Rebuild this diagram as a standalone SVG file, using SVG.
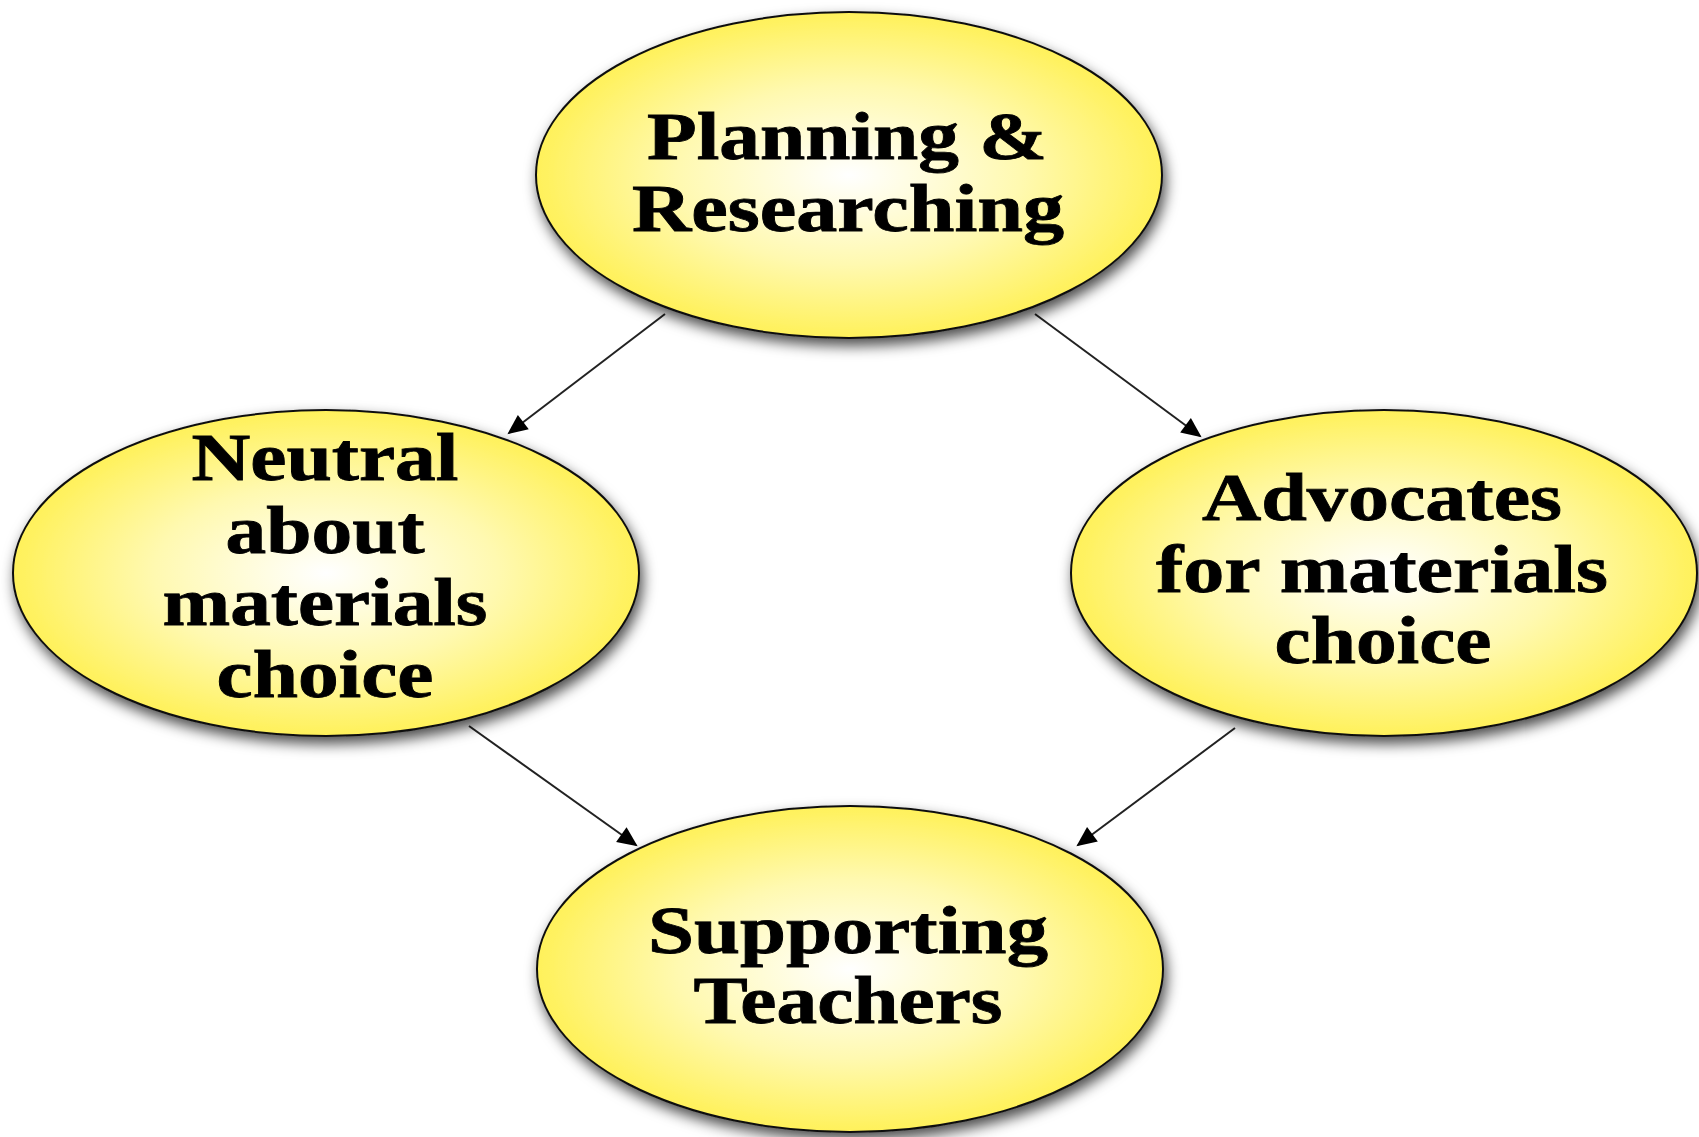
<svg xmlns="http://www.w3.org/2000/svg" width="1699" height="1137" viewBox="0 0 1699 1137">
<defs>
<radialGradient id="yg" cx="50%" cy="50%" r="50%">
<stop offset="0" stop-color="#ffffff"/>
<stop offset="0.55" stop-color="#fff9b0"/>
<stop offset="1" stop-color="#fff15a"/>
</radialGradient>
<filter id="sh" x="-10%" y="-10%" width="125%" height="130%">
<feDropShadow dx="3" dy="7" stdDeviation="7" flood-color="#000" flood-opacity="0.7"/>
</filter>
<marker id="ah" viewBox="0 0 10 10" refX="9" refY="5" markerWidth="24" markerHeight="20" markerUnits="userSpaceOnUse" orient="auto">
<path d="M0,0.5 L10,5 L0,9.5 z" fill="#000"/>
</marker>
</defs>
<style>
.n{fill:url(#yg);stroke:#111;stroke-width:2;filter:url(#sh)}
.t{font-family:"Liberation Serif","Times New Roman",serif;font-weight:bold;font-size:67px;fill:#000;stroke:#000;stroke-width:0.8;text-anchor:middle}
.c{stroke:#222;stroke-width:2;fill:none;marker-end:url(#ah)}
</style>
<rect width="1699" height="1137" fill="#fff"/>
<g id="connectors">
<line class="c" x1="665" y1="314" x2="509" y2="433"/>
<line class="c" x1="1035" y1="314" x2="1200" y2="436"/>
<line class="c" x1="469" y1="726" x2="636" y2="845"/>
<line class="c" x1="1235" y1="728" x2="1078" y2="845"/>
</g>
<g id="planning">
<ellipse class="n" cx="849" cy="175" rx="313" ry="163"/>
<text class="t" x="847" y="159" textLength="400" lengthAdjust="spacingAndGlyphs">Planning &amp;</text>
<text class="t" x="848" y="231" textLength="432" lengthAdjust="spacingAndGlyphs">Researching</text>
</g>
<g id="neutral">
<ellipse class="n" cx="326" cy="573" rx="313" ry="163"/>
<text class="t" x="325" y="480" textLength="267" lengthAdjust="spacingAndGlyphs">Neutral</text>
<text class="t" x="325" y="553" textLength="199" lengthAdjust="spacingAndGlyphs">about</text>
<text class="t" x="325" y="625" textLength="325" lengthAdjust="spacingAndGlyphs">materials</text>
<text class="t" x="325" y="697" textLength="217" lengthAdjust="spacingAndGlyphs">choice</text>
</g>
<g id="advocates">
<ellipse class="n" cx="1384" cy="573" rx="313" ry="163"/>
<text class="t" x="1382" y="520" textLength="360" lengthAdjust="spacingAndGlyphs">Advocates</text>
<text class="t" x="1382" y="592" textLength="452" lengthAdjust="spacingAndGlyphs">for materials</text>
<text class="t" x="1383" y="663" textLength="217" lengthAdjust="spacingAndGlyphs">choice</text>
</g>
<g id="supporting">
<ellipse class="n" cx="850" cy="969" rx="313" ry="163"/>
<text class="t" x="848" y="953" textLength="400" lengthAdjust="spacingAndGlyphs">Supporting</text>
<text class="t" x="848" y="1023" textLength="309" lengthAdjust="spacingAndGlyphs">Teachers</text>
</g>
</svg>
